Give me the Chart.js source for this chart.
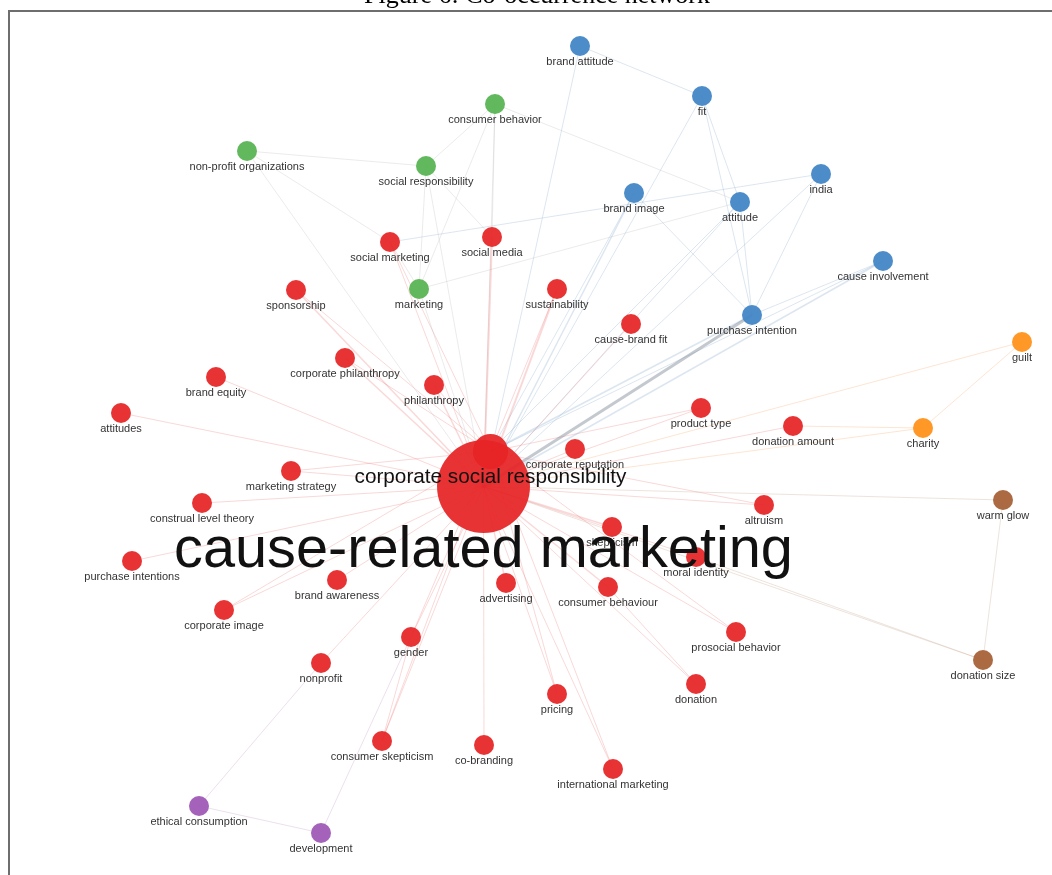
<!DOCTYPE html>
<html>
<head>
<meta charset="utf-8">
<script src="https://cdn.jsdelivr.net/npm/chart.js@4.4.1/dist/chart.umd.min.js"></script>
<style>
html,body{margin:0;padding:0;background:#fff;}
#c{display:block;}
</style>
</head>
<body>
<canvas id="c" width="1052" height="875"></canvas>
<script>
// ---------------- DATA ----------------
const titleText = "Figure 6: Co-occurrence network";

const nodeLabels = [
  "cause-related marketing","corporate social responsibility","social marketing","social media","sponsorship",
  "sustainability","cause-brand fit","corporate philanthropy","brand equity","philanthropy",
  "attitudes","product type","donation amount","corporate reputation","marketing strategy",
  "construal level theory","altruism","skepticism","moral identity","purchase intentions",
  "brand awareness","advertising","consumer behaviour","corporate image","prosocial behavior",
  "gender","nonprofit","pricing","donation","consumer skepticism",
  "co-branding","international marketing","brand attitude","fit","india",
  "brand image","attitude","cause involvement","purchase intention","consumer behavior",
  "non-profit organizations","social responsibility","marketing","guilt","charity",
  "warm glow","donation size","ethical consumption","development"
];
const nodeX = [
  483.5,490.5,390,492,296,
  557,631,345,216,434,
  121,701,793,575,291,
  202,764,612,696,132,
  337,506,608,224,736,
  411,321,557,696,382,
  484,613,580,702,821,
  634,740,883,752,495,
  247,426,419,1022,923,
  1003,983,199,321
];
const nodeY = [
  486.5,451.5,242,237,290,
  289,324,358,377,385,
  413,408,426,449,471,
  503,505,527,557,561,
  580,583,587,610,632,
  637,663,694,684,741,
  745,769,46,96,174,
  193,202,261,315,104,
  151,166,289,342,428,
  500,660,806,833
];
// cluster id: 0 red, 1 blue, 2 green, 3 orange, 4 brown, 5 purple
const nodeCluster = [
  0,0,0,0,0, 0,0,0,0,0, 0,0,0,0,0, 0,0,0,0,0,
  0,0,0,0,0, 0,0,0,0,0, 0,0,
  1,1,1,1,1,1,1,
  2,2,2,2,
  3,3,
  4,4,
  5,5
];
// relative occurrence weight (node area)
const nodeWeight = [
  21.6,3.1,1,1,1, 1,1,1,1,1, 1,1,1,1,1, 1,1,1,1,1,
  1,1,1,1,1, 1,1,1,1,1, 1,1,
  1,1,1,1,1,1,1,
  1,1,1,1,
  1,1,
  1,1,
  1,1
];
const clusterNames = ["red","blue","green","orange","brown","purple"];

const edgeFrom = [
  "cause-related marketing","cause-related marketing","cause-related marketing","cause-related marketing","cause-related marketing",
  "cause-related marketing","cause-related marketing","cause-related marketing","cause-related marketing","cause-related marketing",
  "cause-related marketing","cause-related marketing","cause-related marketing","cause-related marketing","cause-related marketing",
  "cause-related marketing","cause-related marketing","cause-related marketing","cause-related marketing","cause-related marketing",
  "cause-related marketing","cause-related marketing","cause-related marketing","cause-related marketing","cause-related marketing",
  "cause-related marketing","cause-related marketing","cause-related marketing","cause-related marketing","cause-related marketing",
  "brand attitude","fit","india","brand image","attitude","cause involvement","purchase intention",
  "consumer behavior","non-profit organizations","social responsibility","marketing",
  "guilt","charity","warm glow","donation size",
  "corporate social responsibility","corporate social responsibility","corporate social responsibility","corporate social responsibility",
  "corporate social responsibility","corporate social responsibility","corporate social responsibility","corporate social responsibility",
  "corporate social responsibility","corporate social responsibility","corporate social responsibility","corporate social responsibility",
  "corporate social responsibility","corporate social responsibility",
  "cause involvement","purchase intention","brand image","attitude",
  "non-profit organizations","non-profit organizations","consumer behavior","consumer behavior","consumer behavior","consumer behavior",
  "social responsibility","social responsibility","marketing","india","marketing",
  "brand attitude","fit","fit","india","attitude","brand image","cause involvement",
  "guilt","charity","warm glow","donation size",
  "ethical consumption","ethical consumption","development","gender","consumer behaviour"
];
const edgeTo = [
  "social marketing","social media","sponsorship","sustainability","cause-brand fit",
  "corporate philanthropy","brand equity","philanthropy","attitudes","product type",
  "donation amount","corporate reputation","marketing strategy","construal level theory","altruism",
  "skepticism","moral identity","purchase intentions","brand awareness","advertising",
  "consumer behaviour","corporate image","prosocial behavior","gender","nonprofit",
  "pricing","donation","consumer skepticism","co-branding","international marketing",
  "cause-related marketing","cause-related marketing","cause-related marketing","cause-related marketing","cause-related marketing","cause-related marketing","cause-related marketing",
  "cause-related marketing","cause-related marketing","cause-related marketing","cause-related marketing",
  "cause-related marketing","cause-related marketing","cause-related marketing","cause-related marketing",
  "sponsorship","corporate philanthropy","philanthropy","social marketing",
  "altruism","prosocial behavior","international marketing","pricing",
  "gender","consumer skepticism","corporate image","marketing strategy",
  "product type","sustainability",
  "corporate social responsibility","corporate social responsibility","corporate social responsibility","corporate social responsibility",
  "social responsibility","social marketing","social responsibility","social media","marketing","attitude",
  "marketing","social media","social marketing","social marketing","attitude",
  "fit","attitude","purchase intention","purchase intention","purchase intention","purchase intention","purchase intention",
  "charity","donation amount","donation size","moral identity",
  "nonprofit","development","gender","consumer skepticism","donation"
];
const edgeWeight = [
  1,2,1.5,2,1, 1.5,1,1.5,1,1, 1,1,1,1,1, 1.5,1,1,1,1.5, 1.5,1,1,1,1, 1,1,1,1,1,
  1,1,1,1.5,1,1.5,3,
  1,1,1,1,
  1,1,1,1,
  1,1,1,1, 1,1,1,1, 1,1,1,1, 1,1,
  1,1.5,1,1,
  1,1,1,1,1,1,
  1,1,1,1,1,
  1,1,1,1,1,1,1,
  1,1,1,1,
  1,1,1,1,1
];

// ---------------- STYLE ----------------
const nodeColors = {
  red:"rgba(230,36,38,0.93)", blue:"rgba(66,134,198,0.95)", green:"rgba(90,180,84,0.95)",
  orange:"rgba(255,146,26,0.95)", brown:"rgba(168,98,56,0.95)", purple:"rgba(160,90,182,0.95)"
};
const edgeColors = {
  red:"rgba(236,90,90,0.24)", blue:"rgba(150,178,208,0.33)", green:"rgba(185,190,185,0.3)",
  orange:"rgba(250,175,120,0.33)", brown:"rgba(200,170,150,0.33)", purple:"rgba(210,180,212,0.42)"
};
const labelFont = "'Liberation Sans', Arial, sans-serif";

function radiusOf(w){ return 10*Math.sqrt(w); }
function fontOf(r){ return 11 + (r-10)*1.28; }
function idx(name){ return nodeLabels.indexOf(name); }

// edges as line datasets
const edgeDatasets = edgeFrom.map((f,i)=>{
  const a = idx(f), b = idx(edgeTo[i]);
  let cl = nodeCluster[a] !== 0 ? nodeCluster[a] : nodeCluster[b];
  let col = edgeColors[clusterNames[cl]];
  if (edgeWeight[i] >= 3) col = "rgba(125,135,148,0.45)";
  return {
    type:"scatter", showLine:true, order:2,
    data:[{x:nodeX[a],y:nodeY[a]},{x:nodeX[b],y:nodeY[b]}],
    borderColor:col, borderWidth:edgeWeight[i], pointRadius:0, pointHoverRadius:0, fill:false
  };
});

const nodeDataset = {
  type:"scatter", order:1,
  data: nodeX.map((x,i)=>({x:x,y:nodeY[i]})),
  pointRadius: ctx => radiusOf(nodeWeight[ctx.dataIndex]),
  pointHoverRadius: ctx => radiusOf(nodeWeight[ctx.dataIndex]),
  pointBackgroundColor: ctx => nodeColors[clusterNames[nodeCluster[ctx.dataIndex]]],
  pointBorderWidth: 0,
  pointBorderColor: "rgba(0,0,0,0)"
};

const labelPlugin = {
  id:"nodeLabels",
  afterDatasetsDraw(chart){
    const ctx = chart.ctx, xs = chart.scales.x, ys = chart.scales.y;
    const order = nodeLabels.map((_,i)=>i).sort((a,b)=>nodeWeight[a]-nodeWeight[b]);
    ctx.save();
    ctx.textAlign = "center";
    ctx.textBaseline = "alphabetic";
    order.forEach(i=>{
      const r = radiusOf(nodeWeight[i]);
      const f = fontOf(r);
      const px = xs.getPixelForValue(nodeX[i]);
      const py = ys.getPixelForValue(nodeY[i]);
      ctx.font = f.toFixed(2) + "px " + labelFont;
      ctx.fillStyle = f > 15 ? "#111" : "#333";
      ctx.fillText(nodeLabels[i], px, py + r + 0.55*f + 2.5);
    });
    ctx.restore();
  }
};

const framePlugin = {
  id:"frame",
  beforeDraw(chart){
    const ctx = chart.ctx;
    ctx.save();
    ctx.fillStyle = "#fff";
    ctx.fillRect(0,0,chart.width,chart.height);
    ctx.restore();
  },
  afterDraw(chart){
    const ctx = chart.ctx;
    ctx.save();
    ctx.strokeStyle = "#6e6e6e";
    ctx.lineWidth = 2;
    ctx.beginPath();
    ctx.moveTo(9, chart.height);
    ctx.lineTo(9, 11);
    ctx.lineTo(chart.width, 11);
    ctx.stroke();
    ctx.fillStyle = "#000";
    ctx.font = "26px 'Liberation Serif', 'Times New Roman', serif";
    ctx.textAlign = "center";
    ctx.textBaseline = "alphabetic";
    ctx.fillText(titleText, 537, 3);
    ctx.restore();
  }
};

new Chart(document.getElementById("c"), {
  type:"scatter",
  data:{ datasets:[nodeDataset].concat(edgeDatasets) },
  options:{
    responsive:false,
    animation:false,
    events:[],
    layout:{ padding:0, autoPadding:false },
    plugins:{ legend:{display:false}, tooltip:{enabled:false}, title:{display:false} },
    scales:{
      x:{ type:"linear", min:0, max:1052, display:false },
      y:{ type:"linear", min:0, max:875, reverse:true, display:false }
    }
  },
  plugins:[framePlugin, labelPlugin]
});
</script>
</body>
</html>
